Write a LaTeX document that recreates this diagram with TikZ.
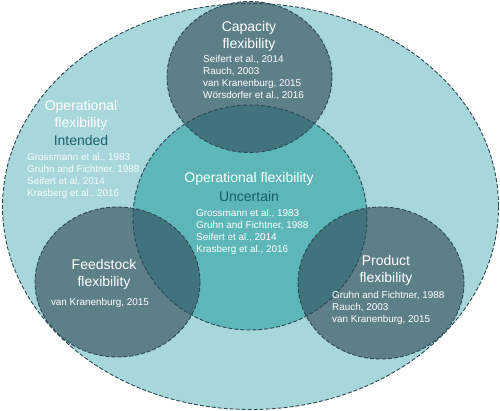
\documentclass[tikz,border=0pt]{standalone}
\usepackage{fontspec}
\setmainfont{Liberation Sans}
\definecolor{outerfill}{HTML}{A7D7DA}
\definecolor{midfill}{HTML}{5DB6B8}
\definecolor{smallfill}{HTML}{324D59}
\definecolor{edgecol}{HTML}{2B4853}
\definecolor{accent}{HTML}{17606B}
\tikzset{
  ring/.style={draw=edgecol, line width=0.9pt, dash pattern=on 4pt off 2pt},
  title/.style={text=white, font=\fontsize{14}{17}\selectfont, align=center, inner sep=0pt},
  sub/.style={text=accent, font=\fontsize{14}{17}\selectfont, inner sep=0pt},
  refs/.style={text=white, font=\fontsize{9.9}{11.9}\selectfont, align=left, inner sep=0pt, anchor=north west},
  refc/.style={text=white, font=\fontsize{9.9}{11.9}\selectfont, align=center, inner sep=0pt},
}
\begin{document}
\begin{tikzpicture}[x=1pt,y=-1pt]
\useasboundingbox (0,0) rectangle (500,411);
% fills
\fill[outerfill] (250.5,206.5) ellipse [x radius=248, y radius=203];
\fill[midfill] (250,217.5) ellipse [x radius=117, y radius=112.5];
\fill[smallfill, fill opacity=0.63] (249.5,77) ellipse [x radius=82.5, y radius=75.5];
\fill[smallfill, fill opacity=0.63] (117.5,282) ellipse [x radius=82.5, y radius=75];
\fill[smallfill, fill opacity=0.63] (381,283) ellipse [x radius=83, y radius=76];
% outlines
\draw[ring] (250.5,206.5) ellipse [x radius=248, y radius=203];
\draw[ring] (250,217.5) ellipse [x radius=117, y radius=112.5];
\draw[ring] (249.5,77) ellipse [x radius=82.5, y radius=75.5];
\draw[ring] (117.5,282) ellipse [x radius=82.5, y radius=75];
\draw[ring] (381,283) ellipse [x radius=83, y radius=76];
% capacity
\node[title] (capt) at (249,36.5) {Capacity\\flexibility};
\node[refs] (capr) at (203,55.5) {Seifert et al., 2014\\Rauch, 2003\\van Kranenburg, 2015\\Wörsdorfer et al., 2016};
% intended
\node[title] (intt) at (81,115) {Operational\\flexibility};
\node[sub] (intu) at (81,140) {Intended};
\node[refs, text=white!92!outerfill] (intr) at (27,153.5) {Grossmann et al., 1983\\Gruhn and Fichtner, 1988\\Seifert et al, 2014\\Krasberg et al., 2016};
% uncertain
\node[title] (unct) at (249,179) {Operational flexibility};
\node[sub] (uncu) at (249,196) {Uncertain};
\node[refs] (uncr) at (196,209.5) {Grossmann et al., 1983\\Gruhn and Fichtner, 1988\\Seifert et al., 2014\\Krasberg et al., 2016};
% feedstock
\node[title] (feedt) at (104,274.5) {Feedstock\\flexibility};
\node[refc] (feedr) at (100,303) {van Kranenburg, 2015};
% product
\node[title] (prodt) at (386,270.5) {Product\\flexibility};
\node[refs] (prodr) at (332,291.5) {Gruhn and Fichtner, 1988\\Rauch, 2003\\van Kranenburg, 2015};
\end{tikzpicture}
\end{document}
